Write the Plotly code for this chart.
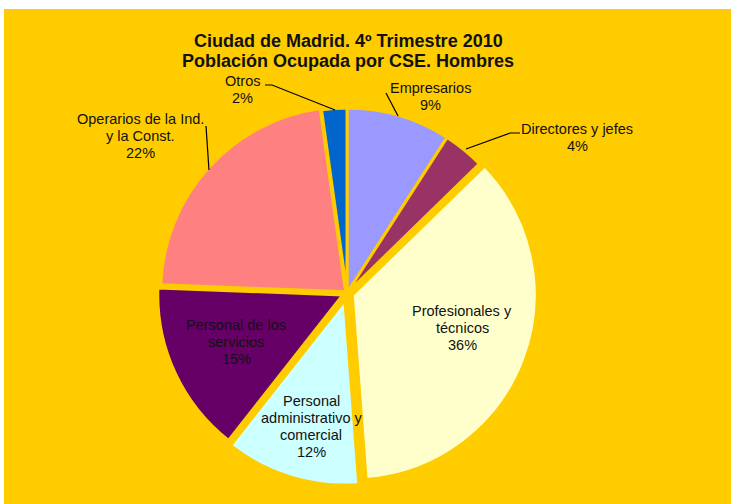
import plotly.graph_objects as go

# Datos: población ocupada por CSE (hombres), porcentajes
categorias = ["Empresarios", "Directores y jefes", "Profesionales y técnicos",
              "Personal administrativo y comercial", "Personal de los servicios",
              "Operarios de la Ind. y la Const.", "Otros"]
valores = [9.1, 3.6, 36.1, 11.8, 15.0, 22.2, 2.2]
etiquetas = [["Empresarios"], ["Directores y jefes"], ["Profesionales y", "técnicos"],
             ["Personal", "administrativo y", "comercial"], ["Personal de los", "servicios"],
             ["Operarios de la Ind.", "y la Const."], ["Otros"]]
colores = ["#9999FF", "#993366", "#FFFFCC", "#CCFFFF", "#660066", "#FF8080", "#0066CC"]
separacion = [0, 0, 0.03, 0.04, 0.025, 0.01, 0]
titulo = ["Ciudad de Madrid. 4º Trimestre 2010", "Población Ocupada por CSE. Hombres"]

W, H = 731, 504
FONDO = "#FFCC00"
FUENTE = "Liberation Sans, Arial"
CX, CY, R = 347, 293, 185  # centro y radio de la tarta (pixel)


def px(x, y):
    # pixel -> coordenadas de papel
    return x / W, 1 - y / H


def texto(fig, lineas, x, y, size, bold=False, paso=17):
    # una anotación por línea para controlar el interlineado
    y0 = y - paso * (len(lineas) - 1) / 2
    for i, l in enumerate(lineas):
        xp, yp = px(x, y0 + i * paso)
        fig.add_annotation(x=xp, y=yp, xref="paper", yref="paper", showarrow=False,
                           xanchor="center", yanchor="middle",
                           text=f"<b>{l}</b>" if bold else l,
                           font=dict(family=FUENTE, size=size, color="#111111"))


total = sum(valores)
porcentajes = [round(v / total * 100) for v in valores]

# plotly reduce el radio según la separación máxima
media = R * (1 + max(separacion))
dom_x = [(CX - media) / W, (CX + media) / W]
dom_y = [1 - (CY + media) / H, 1 - (CY - media) / H]

fig = go.Figure(go.Pie(
    labels=categorias,
    values=valores,
    sort=False,
    direction="clockwise",
    rotation=0,
    pull=separacion,
    marker=dict(colors=colores, line=dict(color=FONDO, width=3)),
    textinfo="none",
    hoverinfo="label+percent",
    domain=dict(x=dom_x, y=dom_y),
    showlegend=False,
))

texto(fig, titulo, 348, 51, 18, bold=True, paso=20)

# posiciones (pixel) del centro de cada etiqueta
pos_etiquetas = [(430, 96), (577, 137), (462, 328), (311, 426), (236, 342), (140, 136), (242, 90)]
for lineas, pct, (x, y) in zip(etiquetas, porcentajes, pos_etiquetas):
    texto(fig, lineas + [f"{pct}%"], x, y, 14.5)

# líneas guía de las etiquetas exteriores
guias = [
    [(386, 93), (398, 116)],
    [(520, 133), (510, 133), (466, 149)],
    [(206, 126), (209, 170)],
    [(265, 85), (272, 85), (335, 110)],
]
shapes = []
for g in guias:
    pts = [px(x, y) for x, y in g]
    path = "M " + " L ".join(f"{a:.4f},{b:.4f}" for a, b in pts)
    shapes.append(dict(type="path", path=path, xref="paper", yref="paper",
                       line=dict(color="black", width=1.2)))

# franjas blancas en los bordes superior e izquierdo
shapes.append(dict(type="rect", xref="paper", yref="paper", x0=0, x1=1, y0=1 - 9 / H, y1=1,
                   fillcolor="white", line=dict(width=0)))
shapes.append(dict(type="rect", xref="paper", yref="paper", x0=0, x1=4 / W, y0=0, y1=1,
                   fillcolor="white", line=dict(width=0)))

fig.update_layout(
    width=W, height=H,
    margin=dict(l=0, r=0, t=0, b=0),
    paper_bgcolor=FONDO,
    shapes=shapes,
)

fig.write_html("out.html", config={"displayModeBar": False},
               post_script="document.body.style.margin='0';")
